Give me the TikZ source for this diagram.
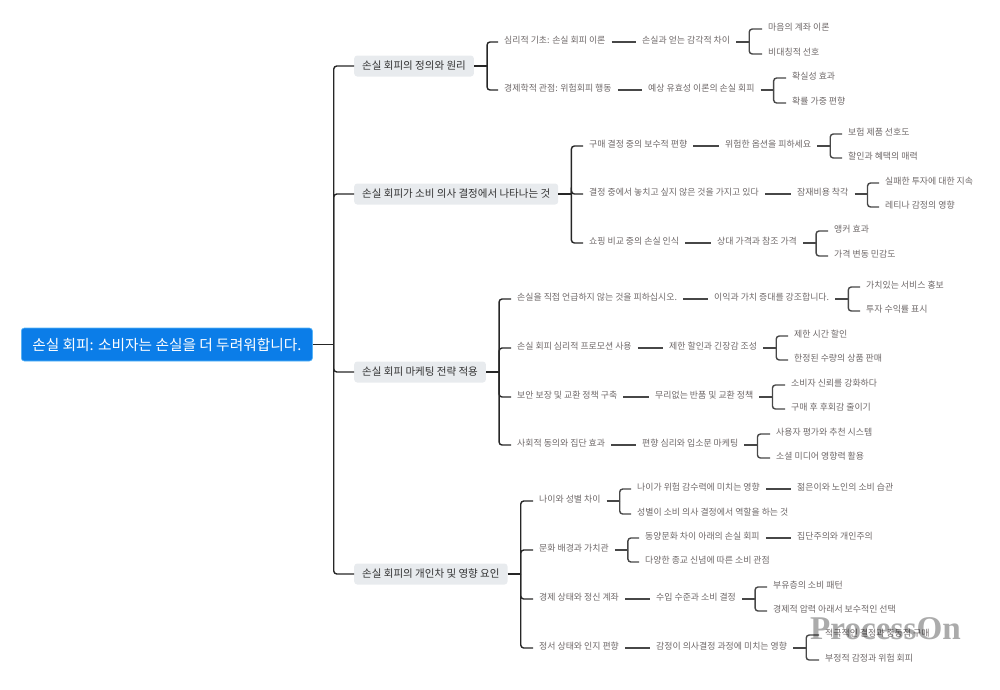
\documentclass[tikz,border=0pt]{standalone}
\usepackage{fontspec}
\setmainfont{Noto Sans CJK KR}
\newfontfamily\wmfont{Liberation Serif}
\definecolor{rootblue}{HTML}{0B7DE8}
\definecolor{rootedge}{HTML}{56B4F8}
\definecolor{topicgray}{HTML}{E8EBEE}
\definecolor{leaftext}{HTML}{6E6868}

\begin{document}
\begin{tikzpicture}[
  x=1pt, y=-1pt,
  rootbox/.style={anchor=west, fill=rootblue, draw=rootedge, line width=0.6pt, rounded corners=3pt, text=white,
    font=\fontsize{14.7}{16}\selectfont, inner xsep=11pt, inner ysep=0pt, text height=22pt, text depth=11pt},
  topic/.style={anchor=west, fill=topicgray, rounded corners=3pt, text=black!80,
    font=\fontsize{10.5}{12}\selectfont, inner xsep=8pt, inner ysep=5pt, text height=9pt, text depth=2pt},
  leaf/.style={anchor=west, text=leaftext, font=\fontsize{8.9}{10}\selectfont,
    inner xsep=6pt, inner ysep=0pt, text height=5.5pt, text depth=3pt},
  link/.style={line width=1.4pt, draw=black!85, rounded corners=3pt},
  sublink/.style={line width=1.4pt, draw=black!72, rounded corners=3pt},
]
  \useasboundingbox (0,0) rectangle (1000,689);
  \newcommand{\fork}[4]{% #1 style, #2 offset, #3 parent, #4 children
    \draw[#1] (#3.east) -- ++(#2,0) coordinate (#3fork);
    \foreach \c in {#4} \draw[#1] (#3fork) |- (\c.west);}

  \node[rootbox] (root) at (21,344.5) {손실 회피: 소비자는 손실을 더 두려워합니다.};

  % first branch
  \node[topic] (defn) at (354,66) {손실 회피의 정의와 원리};
  \node[leaf] (defn1) at (498,42) {심리적 기초: 손실 회피 이론};
  \node[leaf] (defn1a) at (636,42) {손실과 얻는 감각적 차이};
  \node[leaf] (defn1x) at (762,29) {마음의 계좌 이론};
  \node[leaf] (defn1y) at (762,54) {비대칭적 선호};
  \node[leaf] (defn2) at (498,90) {경제학적 관점: 위험회피 행동};
  \node[leaf] (defn2a) at (642,90) {예상 유효성 이론의 손실 회피};
  \node[leaf] (defn2x) at (786,78) {확실성 효과};
  \node[leaf] (defn2y) at (786,103) {확률 가중 편향};

  % second branch
  \node[topic] (deci) at (354,194) {손실 회피가 소비 의사 결정에서 나타나는 것};
  \node[leaf] (deci1) at (583,146) {구매 결정 중의 보수적 편향};
  \node[leaf] (deci1a) at (719,146) {위험한 옵션을 피하세요};
  \node[leaf] (deci1x) at (842,134) {보험 제품 선호도};
  \node[leaf] (deci1y) at (842,158) {할인과 혜택의 매력};
  \node[leaf] (deci2) at (583,194) {결정 중에서 놓치고 싶지 않은 것을 가지고 있다};
  \node[leaf] (deci2a) at (791,194) {잠재비용 착각};
  \node[leaf] (deci2x) at (879,183) {실패한 투자에 대한 지속};
  \node[leaf] (deci2y) at (879,207) {레티나 감정의 영향};
  \node[leaf] (deci3) at (583,243) {쇼핑 비교 중의 손실 인식};
  \node[leaf] (deci3a) at (711,243) {상대 가격과 참조 가격};
  \node[leaf] (deci3x) at (828,231) {앵커 효과};
  \node[leaf] (deci3y) at (828,256) {가격 변동 민감도};

  % third branch
  \node[topic] (mkt) at (354,372) {손실 회피 마케팅 전략 적용};
  \node[leaf] (mkt1) at (511,299) {손실을 직접 언급하지 않는 것을 피하십시오.};
  \node[leaf] (mkt1a) at (708,299) {이익과 가치 증대를 강조합니다.};
  \node[leaf] (mkt1x) at (860,287) {가치있는 서비스 홍보};
  \node[leaf] (mkt1y) at (860,311) {투자 수익률 표시};
  \node[leaf] (mkt2) at (511,348) {손실 회피 심리적 프로모션 사용};
  \node[leaf] (mkt2a) at (663,348) {제한 할인과 긴장감 조성};
  \node[leaf] (mkt2x) at (788,336) {제한 시간 할인};
  \node[leaf] (mkt2y) at (788,360) {한정된 수량의 상품 판매};
  \node[leaf] (mkt3) at (511,397) {보안 보장 및 교환 정책 구축};
  \node[leaf] (mkt3a) at (649,397) {무리없는 반품 및 교환 정책};
  \node[leaf] (mkt3x) at (785,385) {소비자 신뢰를 강화하다};
  \node[leaf] (mkt3y) at (785,409) {구매 후 후회감 줄이기};
  \node[leaf] (mkt4) at (511,445) {사회적 동의와 집단 효과};
  \node[leaf] (mkt4a) at (636,445) {편향 심리와 입소문 마케팅};
  \node[leaf] (mkt4x) at (770,434) {사용자 평가와 추천 시스템};
  \node[leaf] (mkt4y) at (770,458) {소셜 미디어 영향력 활용};

  % fourth branch
  \node[topic] (indv) at (354,574) {손실 회피의 개인차 및 영향 요인};
  \node[leaf] (indv1) at (533,501) {나이와 성별 차이};
  \node[leaf] (indv1a) at (631,489) {나이가 위험 감수력에 미치는 영향};
  \node[leaf] (indv1b) at (631,514) {성별이 소비 의사 결정에서 역할을 하는 것};
  \node[leaf] (indv1c) at (791,489) {젊은이와 노인의 소비 습관};
  \node[leaf] (indv2) at (533,550) {문화 배경과 가치관};
  \node[leaf] (indv2a) at (639,538) {동양문화 차이 아래의 손실 회피};
  \node[leaf] (indv2b) at (639,562) {다양한 종교 신념에 따른 소비 관점};
  \node[leaf] (indv2c) at (791,538) {집단주의와 개인주의};
  \node[leaf] (indv3) at (533,599) {경제 상태와 정신 계좌};
  \node[leaf] (indv3a) at (650,599) {수입 수준과 소비 결정};
  \node[leaf] (indv3x) at (767,587) {부유층의 소비 패턴};
  \node[leaf] (indv3y) at (767,611) {경제적 압력 아래서 보수적인 선택};
  \node[leaf] (indv4) at (533,648) {정서 상태와 인지 편향};
  \node[leaf] (indv4a) at (650,648) {감정이 의사결정 과정에 미치는 영향};
  \node[leaf] (indv4x) at (819,635) {적극적인 결정과 충동적 구매};
  \node[leaf] (indv4y) at (819,660) {부정적 감정과 위험 회피};

  % connectors
  \fork{link}{21}{root}{defn,deci,mkt,indv}
  \fork{link}{13}{defn}{defn1,defn2}
  \fork{link}{13}{deci}{deci1,deci2,deci3}
  \fork{link}{13}{mkt}{mkt1,mkt2,mkt3,mkt4}
  \fork{link}{13}{indv}{indv1,indv2,indv3,indv4}
  \foreach \p/\q in {defn1/defn1a,defn2/defn2a,deci1/deci1a,deci2/deci2a,deci3/deci3a,
    mkt1/mkt1a,mkt2/mkt2a,mkt3/mkt3a,mkt4/mkt4a,indv1a/indv1c,indv2a/indv2c,indv3/indv3a,indv4/indv4a}
    \draw[sublink] (\p.east) -- (\q.west);
  \fork{sublink}{13}{defn1a}{defn1x,defn1y}
  \fork{sublink}{13}{defn2a}{defn2x,defn2y}
  \fork{sublink}{13}{deci1a}{deci1x,deci1y}
  \fork{sublink}{13}{deci2a}{deci2x,deci2y}
  \fork{sublink}{13}{deci3a}{deci3x,deci3y}
  \fork{sublink}{13}{mkt1a}{mkt1x,mkt1y}
  \fork{sublink}{13}{mkt2a}{mkt2x,mkt2y}
  \fork{sublink}{13}{mkt3a}{mkt3x,mkt3y}
  \fork{sublink}{13}{mkt4a}{mkt4x,mkt4y}
  \fork{sublink}{13}{indv1}{indv1a,indv1b}
  \fork{sublink}{13}{indv2}{indv2a,indv2b}
  \fork{sublink}{13}{indv3a}{indv3x,indv3y}
  \fork{sublink}{13}{indv4a}{indv4x,indv4y}

  % watermark
  \node[anchor=west, inner sep=0pt, text=black, opacity=0.33, font=\wmfont\bfseries\fontsize{33.2}{35}\selectfont] (mark) at (810,629) {ProcessOn};
\end{tikzpicture}
\end{document}
